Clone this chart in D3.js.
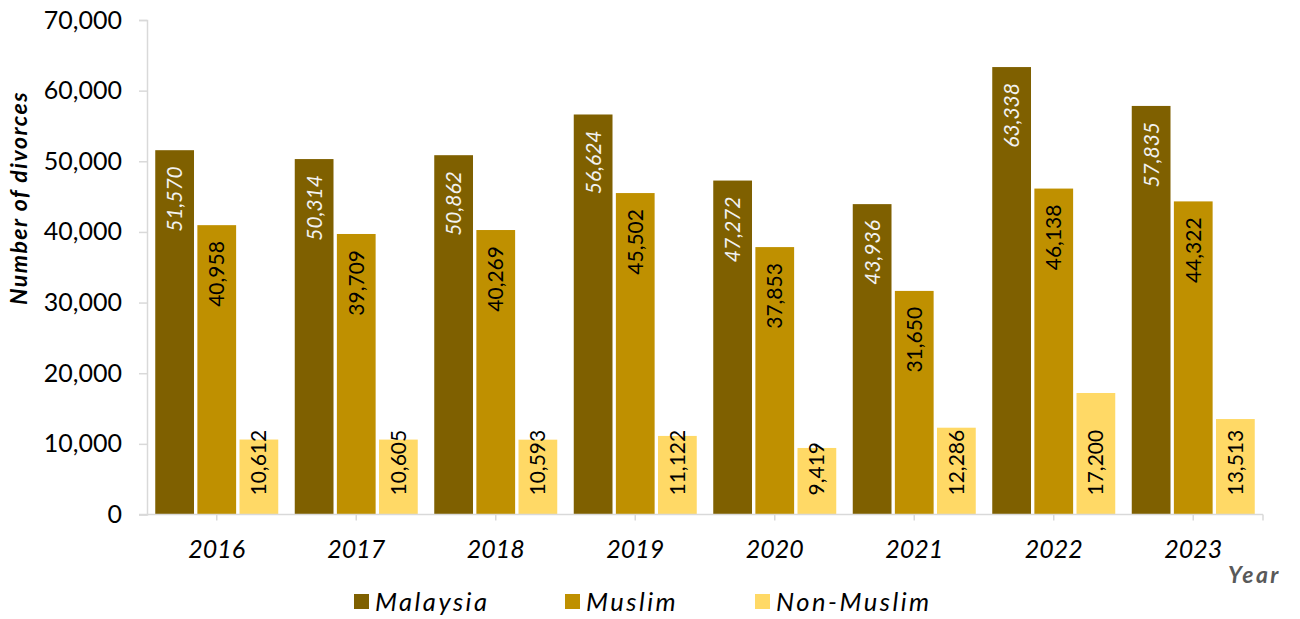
<!DOCTYPE html>
<html>
<head>
<meta charset="utf-8">
<script src="https://cdn.jsdelivr.net/npm/d3@7"></script>
<style>
  html, body { margin: 0; padding: 0; background: #fff; }
  svg { display: block; font-family: Lato, "Open Sans", sans-serif; }
</style>
</head>
<body>
<svg id="chart" width="1300" height="619"></svg>
<script>
const years = ["2016", "2017", "2018", "2019", "2020", "2021", "2022", "2023"];
const seriesNames = ["Malaysia", "Muslim", "Non-Muslim"];
const malaysia = [51570, 50314, 50862, 56624, 47272, 43936, 63338, 57835];
const muslim = [40958, 39709, 40269, 45502, 37853, 31650, 46138, 44322];
const nonMuslim = [10612, 10605, 10593, 11122, 9419, 12286, 17200, 13513];
const yTicks = [0, 10000, 20000, 30000, 40000, 50000, 60000, 70000];
const colors = ["#7F6000", "#BF9000", "#FFD966"];
const labelColors = ["#F2F2F2", "#000000", "#000000"];
const labelItalic = [true, false, false];

const values = [malaysia, muslim, nonMuslim];
const svg = d3.select("#chart");

const plot = { left: 147, right: 1263, top: 20, bottom: 514.5 };
const axisColor = "#D9D9D9";
const fmt = d3.format(",");

const x0 = d3.scaleBand().domain(years).range([plot.left, plot.right])
  .paddingInner(0.1183).paddingOuter(0.05915);
const x1 = d3.scaleBand().domain(seriesNames).range([0, x0.bandwidth()])
  .paddingInner(0.08).paddingOuter(0);
const y = d3.scaleLinear().domain([0, 70000]).range([plot.bottom, plot.top]);

// Y axis
const yAxis = d3.axisLeft(y).tickValues(yTicks).tickFormat(fmt).tickSize(8).tickPadding(17);
const gy = svg.append("g").attr("transform", `translate(${plot.left},0)`).call(yAxis);
gy.select(".domain").attr("stroke", axisColor).attr("stroke-width", 1.5);
gy.selectAll(".tick line").attr("stroke", axisColor).attr("stroke-width", 1.5);
gy.selectAll(".tick text").attr("font-size", 25).attr("fill", "#000")
  .attr("font-family", "Lato, sans-serif");

// bars
const groups = svg.append("g").selectAll("g").data(years).join("g")
  .attr("transform", d => `translate(${x0(d)},0)`);

seriesNames.forEach((s, si) => {
  groups.append("rect")
    .attr("x", x1(s))
    .attr("width", x1.bandwidth())
    .attr("y", (d, i) => y(values[si][i]))
    .attr("height", (d, i) => y(0) - y(values[si][i]))
    .attr("fill", colors[si]);
});

// X axis
svg.append("line").attr("x1", plot.left - 8).attr("x2", plot.right)
  .attr("y1", plot.bottom).attr("y2", plot.bottom)
  .attr("stroke", axisColor).attr("stroke-width", 1.5);
const tickXs = years.map(d => x0(d) + x0.bandwidth() / 2).concat([plot.right]);
svg.append("g").selectAll("line").data(tickXs).join("line")
  .attr("x1", d => d).attr("x2", d => d)
  .attr("y1", plot.bottom).attr("y2", plot.bottom + 6)
  .attr("stroke", axisColor).attr("stroke-width", 1.5);

svg.append("g").selectAll("text").data(years).join("text")
  .attr("x", d => x0(d) + x0.bandwidth() / 2)
  .attr("y", 558)
  .attr("text-anchor", "middle")
  .attr("font-size", 25)
  .attr("font-style", "italic")
  .attr("fill", "#000")
  .text(d => d);

// data labels
seriesNames.forEach((s, si) => {
  groups.append("text")
    .attr("transform", (d, i) => {
      const cx = x1(s) + x1.bandwidth() / 2 + 7.5;
      const yy = si === 2 ? y(0) - 19 : y(values[si][i]) + 16;
      return `translate(${cx},${yy}) rotate(-90)`;
    })
    .attr("text-anchor", si === 2 ? "start" : "end")
    .attr("font-size", 21)
    .attr("font-style", labelItalic[si] ? "italic" : "normal")
    .attr("fill", labelColors[si])
    .text((d, i) => fmt(values[si][i]));
});

// axis titles
svg.append("text")
  .attr("transform", "translate(27,198) rotate(-90)")
  .attr("text-anchor", "middle")
  .attr("font-size", 23)
  .attr("letter-spacing", 1.5)
  .attr("font-weight", "bold")
  .attr("font-style", "italic")
  .attr("fill", "#000")
  .text("Number of divorces");

svg.append("text")
  .attr("x", 1281).attr("y", 583)
  .attr("text-anchor", "end")
  .attr("font-size", 23)
  .attr("letter-spacing", 2.5)
  .attr("font-weight", "bold")
  .attr("font-style", "italic")
  .attr("fill", "#595959")
  .text("Year");

// legend
const legendX = [354, 565, 755];
const legend = svg.append("g").selectAll("g").data(seriesNames).join("g")
  .attr("transform", (d, i) => `translate(${legendX[i]},0)`);
legend.append("rect").attr("x", 0).attr("y", 594).attr("width", 15).attr("height", 15)
  .attr("fill", (d, i) => colors[i]);
legend.append("text").attr("x", 21).attr("y", 610.5)
  .attr("font-size", 25.5).attr("letter-spacing", 2.5)
  .attr("font-style", "italic").attr("fill", "#000")
  .text(d => d);
</script>
</body>
</html>
